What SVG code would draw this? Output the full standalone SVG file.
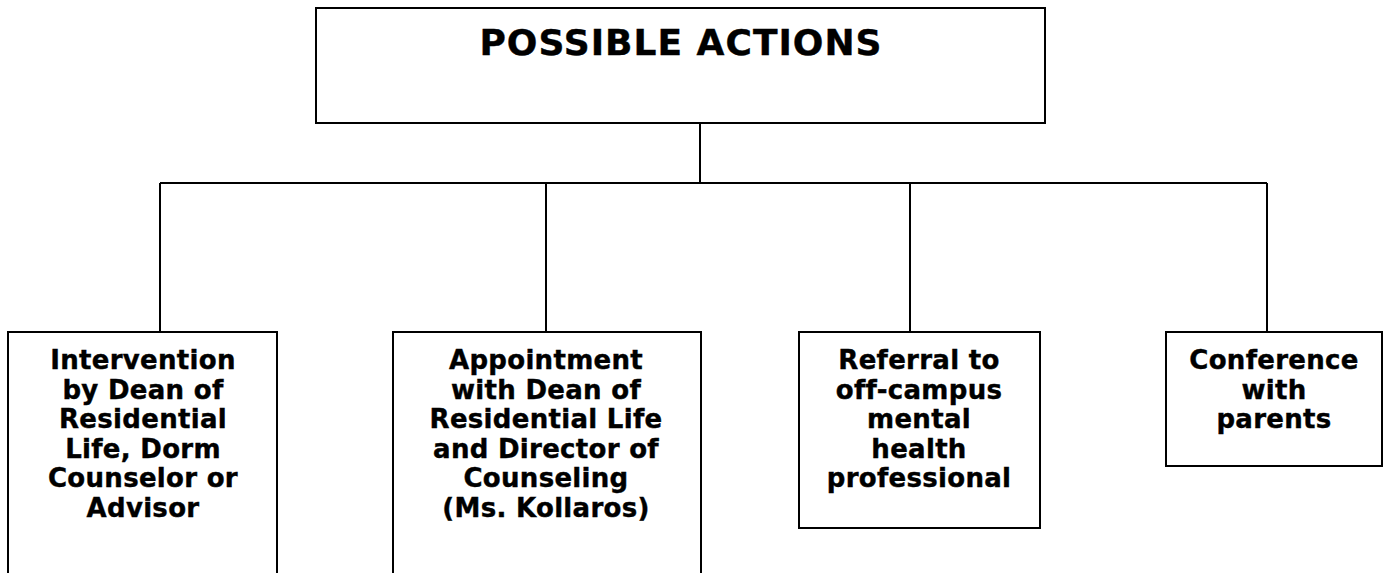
<svg xmlns="http://www.w3.org/2000/svg" width="1385" height="573" viewBox="0 0 1385 573">
<style>
.box{fill:#fff;stroke:#000;stroke-width:2}
.conn{fill:none;stroke:#000;stroke-width:2}
.t{font-family:"DejaVu Sans",Verdana,sans-serif;font-weight:bold;font-size:26px;letter-spacing:0.3px;text-anchor:middle;fill:#000;stroke:#000;stroke-width:0.4}
.title{font-size:36px;letter-spacing:1px}
</style>
<rect width="1385" height="573" fill="#fff"/>
<g id="connectors">
<path class="conn" d="M700 123V183M160 183H1267M160 183V332M546 183V332M910 183V332M1267 183V332"/>
</g>
<g id="root">
<rect class="box" x="316" y="8" width="729" height="115"/>
<text class="t title" x="681" y="55">POSSIBLE ACTIONS</text>
</g>
<g id="intervention">
<rect class="box" x="8" y="332" width="269" height="260"/>
<text class="t" x="143" y="369"><tspan x="143">Intervention</tspan><tspan x="143" dy="29.5">by Dean of</tspan><tspan x="143" dy="29.5">Residential</tspan><tspan x="143" dy="29.5">Life, Dorm</tspan><tspan x="143" dy="29.5">Counselor or</tspan><tspan x="143" dy="29.5">Advisor</tspan></text>
</g>
<g id="appointment">
<rect class="box" x="393" y="332" width="308" height="260"/>
<text class="t" x="546" y="369"><tspan x="546">Appointment</tspan><tspan x="546" dy="29.5">with Dean of</tspan><tspan x="546" dy="29.5">Residential Life</tspan><tspan x="546" dy="29.5">and Director of</tspan><tspan x="546" dy="29.5">Counseling</tspan><tspan x="546" dy="29.5">(Ms. Kollaros)</tspan></text>
</g>
<g id="referral">
<rect class="box" x="799" y="332" width="241" height="196"/>
<text class="t" x="919" y="369"><tspan x="919">Referral to</tspan><tspan x="919" dy="29.5">off-campus</tspan><tspan x="919" dy="29.5">mental</tspan><tspan x="919" dy="29.5">health</tspan><tspan x="919" dy="29.5">professional</tspan></text>
</g>
<g id="conference">
<rect class="box" x="1166" y="332" width="216" height="134"/>
<text class="t" x="1274" y="369"><tspan x="1274">Conference</tspan><tspan x="1274" dy="29.5">with</tspan><tspan x="1274" dy="29.5">parents</tspan></text>
</g>
</svg>
